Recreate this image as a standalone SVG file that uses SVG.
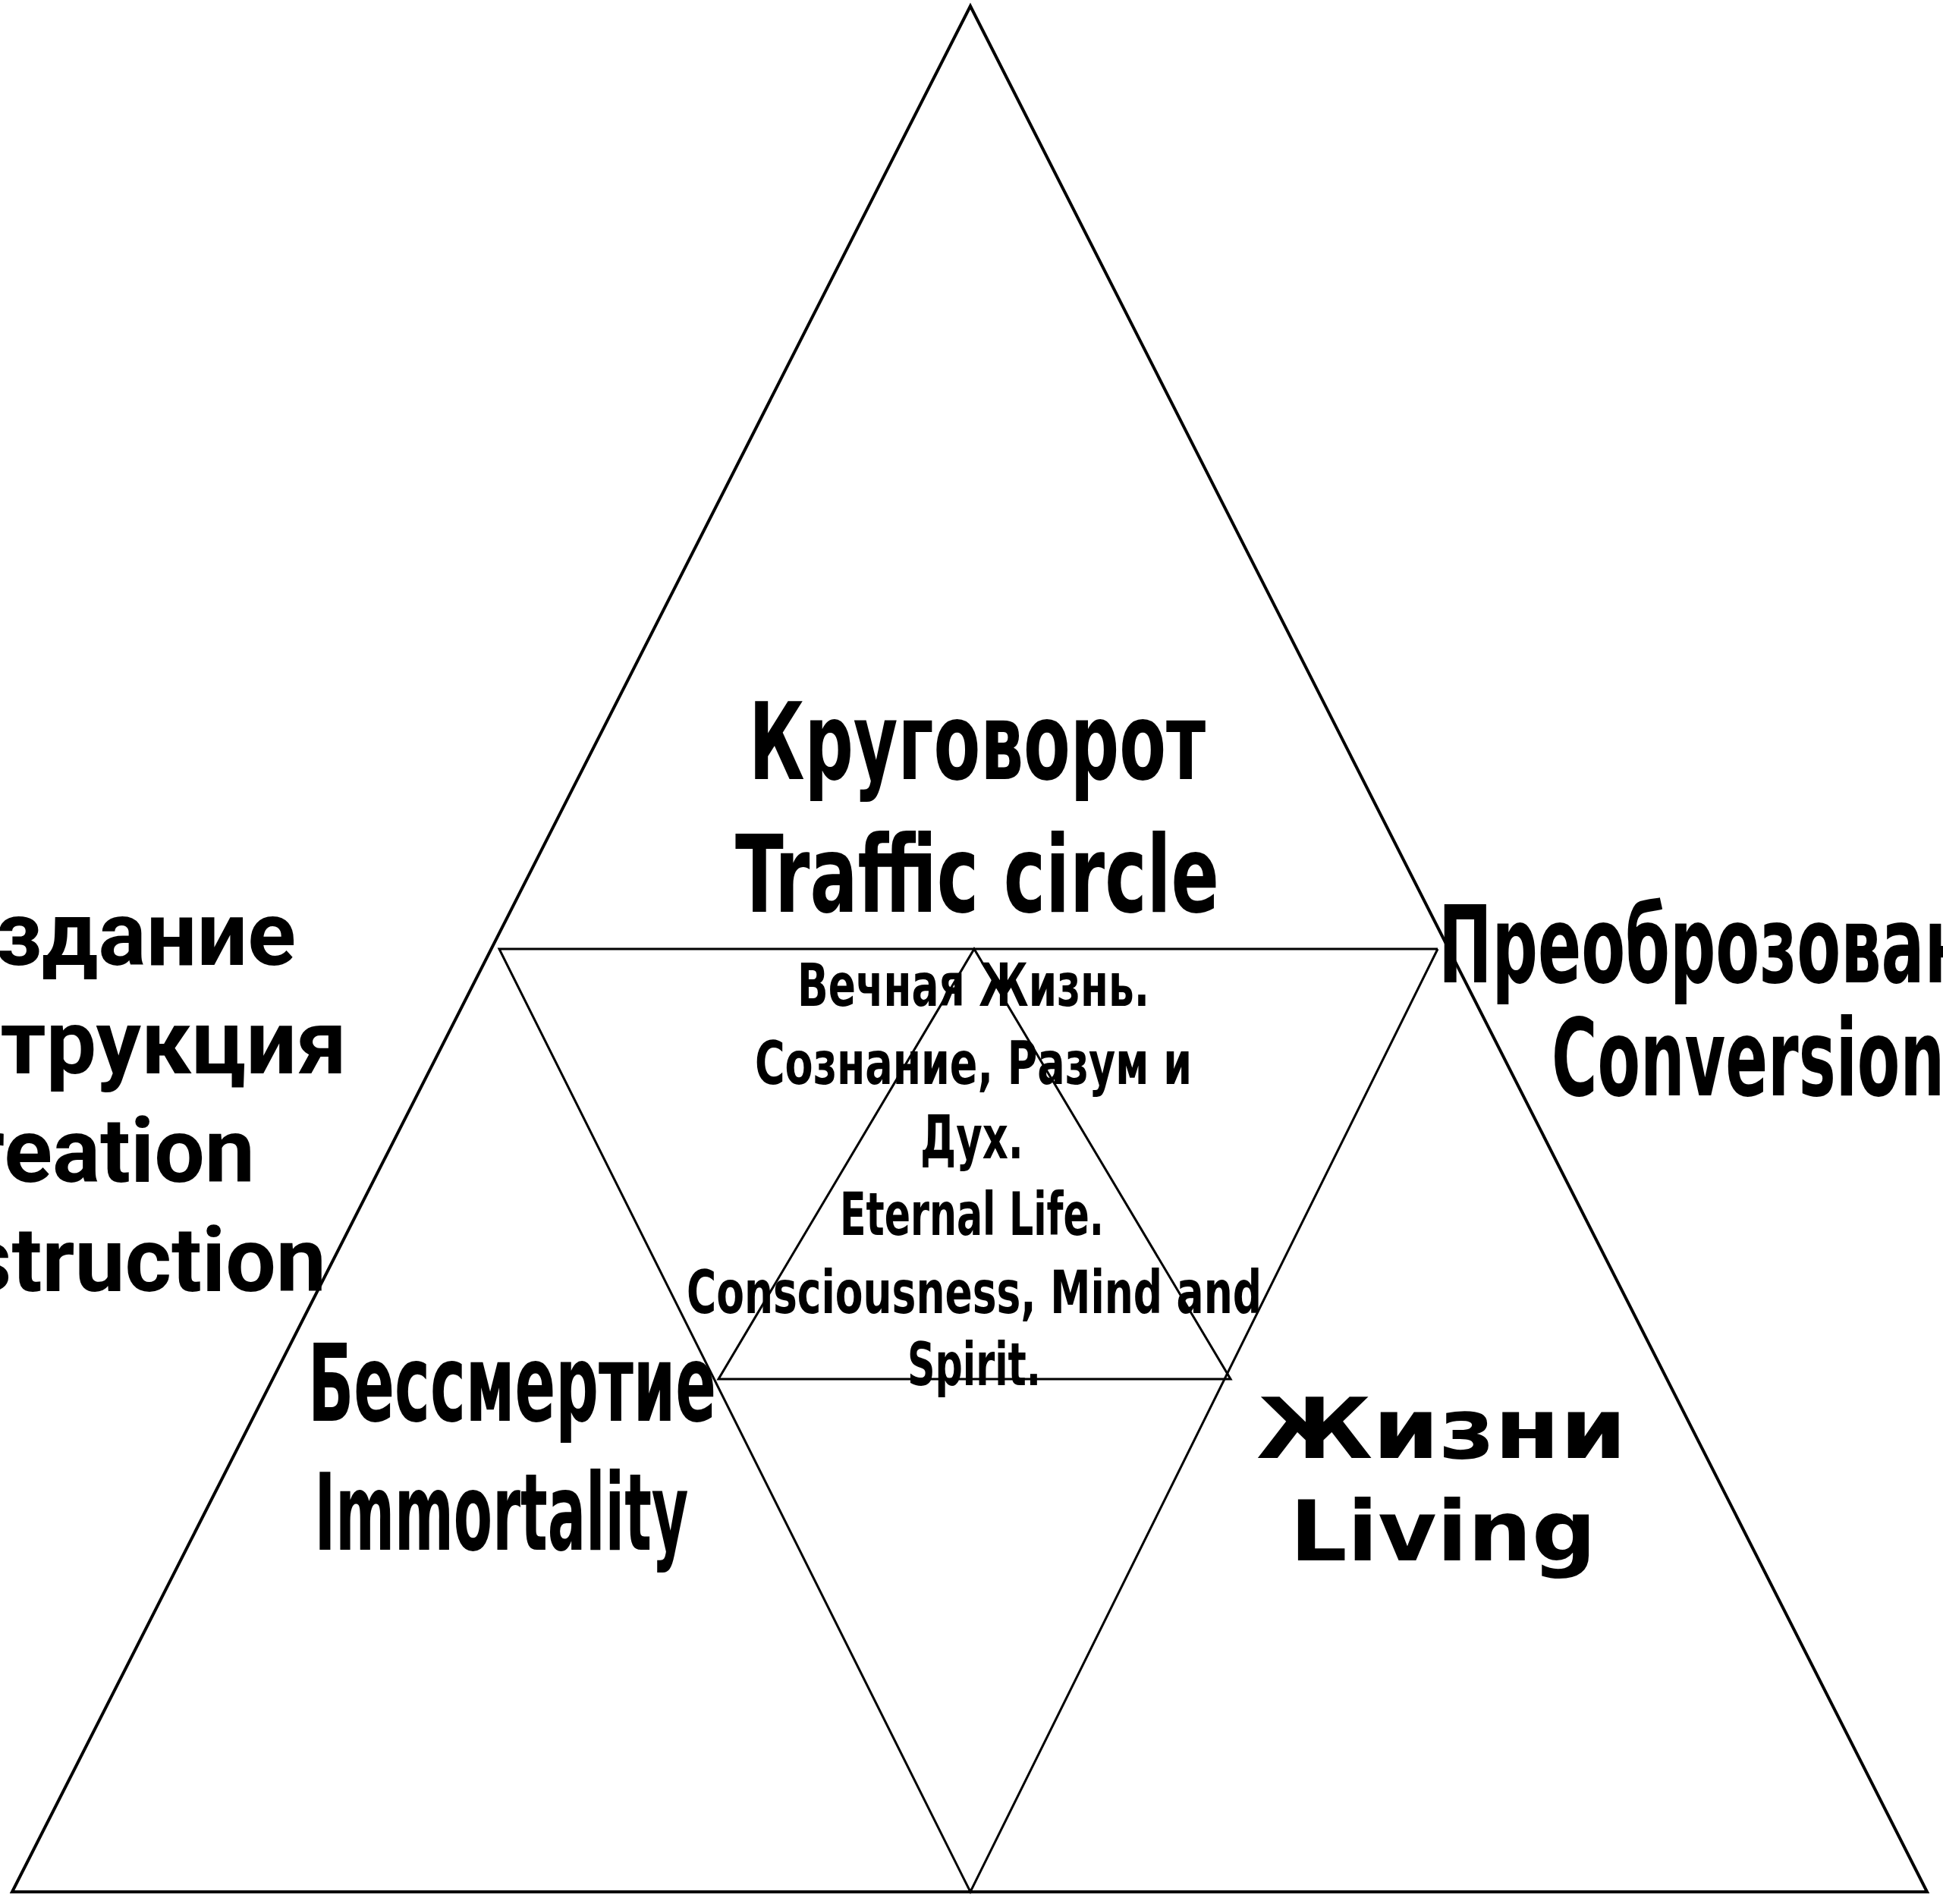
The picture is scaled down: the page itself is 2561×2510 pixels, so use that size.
<svg xmlns="http://www.w3.org/2000/svg" width="2561" height="2510" viewBox="0 0 2561 2510">
<style>
.bg{fill:#ffffff}
.outer{fill:none;stroke:#000;stroke-width:4;stroke-linejoin:miter}
.inner{fill:none;stroke:#000;stroke-width:3}
.narrow{font-family:"Liberation Sans Narrow","DejaVu Sans Condensed","Liberation Sans",sans-serif;font-weight:bold;fill:#000}
.round{font-family:Roboto,"Liberation Sans",sans-serif;font-weight:bold;fill:#000}
.wide{font-family:"DejaVu Sans","Liberation Sans",sans-serif;font-weight:bold;fill:#000}
.big{font-size:140px}
.mid{font-size:78px}
</style>
<rect class="bg" x="0" y="0" width="2561" height="2510"/>
<g id="lines">
  <polygon class="outer" points="1279,8 16,2494 2540,2494"/>
  <polyline class="inner" points="1895,1251 658,1251 1279,2494 1895,1251"/>
  <polygon class="inner" points="1284,1251 947,1818 1622,1818"/>
</g>
<g id="node-top">
  <text class="narrow big" x="1288" y="1027" text-anchor="middle" textLength="602" lengthAdjust="spacingAndGlyphs">Круговорот</text>
  <text class="narrow big" x="1288" y="1202" text-anchor="middle" textLength="638" lengthAdjust="spacingAndGlyphs">Traffic circle</text>
</g>
<g id="node-center">
  <text class="narrow mid" x="1283" y="1326" text-anchor="middle" textLength="464" lengthAdjust="spacingAndGlyphs">Вечная Жизнь.</text>
  <text class="narrow mid" x="1283" y="1429" text-anchor="middle" textLength="576" lengthAdjust="spacingAndGlyphs">Сознание, Разум и</text>
  <text class="narrow mid" x="1281" y="1527" text-anchor="middle" textLength="136" lengthAdjust="spacingAndGlyphs">Дух.</text>
  <text class="narrow mid" x="1281" y="1628" text-anchor="middle" textLength="348" lengthAdjust="spacingAndGlyphs">Eternal Life.</text>
  <text class="narrow mid" x="1284" y="1731" text-anchor="middle" textLength="758" lengthAdjust="spacingAndGlyphs">Consciousness, Mind and</text>
  <text class="narrow mid" x="1284" y="1826" text-anchor="middle" textLength="176" lengthAdjust="spacingAndGlyphs">Spirit.</text>
</g>
<g id="node-left">
  <text class="round" font-size="118" x="390" y="1272" text-anchor="end">Создание</text>
  <text class="round" font-size="118" x="457" y="1415" text-anchor="end">Деструкция</text>
  <text class="round" font-size="118" x="336" y="1558" text-anchor="end">Creation</text>
  <text class="round" font-size="118" x="430" y="1702" text-anchor="end">Destruction</text>
</g>
<g id="node-right">
  <text class="narrow big" x="1896" y="1295" textLength="815" lengthAdjust="spacingAndGlyphs">Преоброзование</text>
  <text class="narrow big" x="2045" y="1444" textLength="518" lengthAdjust="spacingAndGlyphs">Conversion</text>
</g>
<g id="node-immortality">
  <text class="narrow" font-size="140" x="675" y="1873" text-anchor="middle" textLength="538" lengthAdjust="spacingAndGlyphs">Бессмертие</text>
  <text class="narrow" font-size="140" x="661" y="2043" text-anchor="middle" textLength="493" lengthAdjust="spacingAndGlyphs">Immortality</text>
</g>
<g id="node-living">
  <text class="wide" font-size="110" x="1900" y="1922" text-anchor="middle" textLength="488" lengthAdjust="spacingAndGlyphs">Жизни</text>
  <text class="wide" font-size="110" x="1902" y="2057" text-anchor="middle" textLength="404" lengthAdjust="spacingAndGlyphs">Living</text>
</g>
</svg>
